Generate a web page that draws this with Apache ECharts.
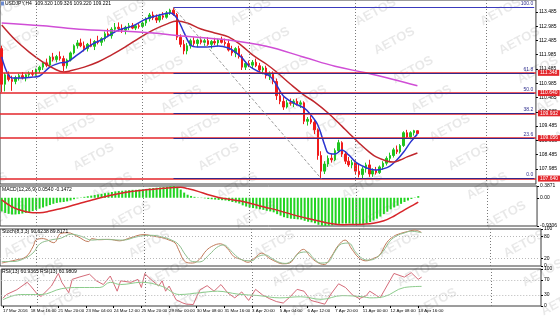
<!DOCTYPE html>
<html><head><meta charset="utf-8">
<script src="https://cdn.jsdelivr.net/npm/echarts@6/dist/echarts.min.js"></script>
<style>html,body{margin:0;padding:0;background:#fff}#c{width:560px;height:318px}</style>
</head><body><div id="c"></div>
<script>
// ---------------- DATA ----------------
const headerText = 'USDJPY,H4  109.320 109.326 109.220 109.221';
const macdTitle = 'MACD(12,26,9) 0.0540 -0.1472';
const stochTitle = 'Stoch(8,3,3) 90.6238 89.8171';
const rsiTitle = 'RSI(13) 60.9365 RSI(13) 60.9809';

const timeLabels = ['17 Mar 2016','18 Mar 16:00','21 Mar 20:00','23 Mar 04:00','24 Mar 12:00','25 Mar 20:00','29 Mar 00:00','30 Mar 08:00','31 Mar 16:00','3 Apr 20:00','5 Apr 04:00','6 Apr 12:00','7 Apr 20:00','11 Apr 00:00','12 Apr 08:00','13 Apr 16:00'];
const barsPerLabel = 8;
const totalSlots = 156;
const weekSeparators = [10, 41, 72, 103, 141];

const opens = [112.20,110.95,111.28,111.12,111.05,111.18,111.25,111.18,111.28,111.33,
111.30,111.45,111.55,111.70,111.62,111.90,111.82,111.92,111.85,111.60,
111.80,112.05,112.30,112.40,112.30,112.20,112.35,112.28,112.45,112.42,
112.55,112.72,112.65,112.88,112.95,112.90,112.85,112.95,113.00,112.92,
113.00,112.98,113.10,113.25,113.38,113.28,113.20,113.35,113.30,113.45,
113.55,113.40,112.60,112.35,112.12,112.30,112.48,112.38,112.50,112.42,
112.48,112.35,112.45,112.40,112.50,112.42,112.38,112.15,112.05,112.20,
111.92,111.55,111.68,111.62,111.72,111.60,111.45,111.52,111.25,111.30,
111.05,110.55,110.35,110.15,110.30,110.28,110.35,110.25,110.30,109.65,
109.72,109.62,109.35,108.45,107.90,108.15,108.35,108.30,108.62,108.90,
108.50,108.25,108.12,108.20,107.90,107.78,107.98,108.12,107.80,107.92,
107.85,108.05,108.18,108.35,108.45,108.65,108.58,108.80,109.25,109.10,
109.25,109.32];
const closes = [110.95,111.28,111.12,111.05,111.18,111.25,111.18,111.28,111.33,111.30,
111.45,111.55,111.70,111.62,111.90,111.82,111.92,111.85,111.60,111.80,
112.05,112.30,112.40,112.30,112.20,112.35,112.28,112.45,112.42,112.55,
112.72,112.65,112.88,112.95,112.90,112.85,112.95,113.00,112.92,113.00,
112.98,113.10,113.25,113.38,113.28,113.20,113.35,113.30,113.45,113.55,
113.40,112.60,112.35,112.12,112.30,112.48,112.38,112.50,112.42,112.48,
112.35,112.45,112.40,112.50,112.42,112.38,112.15,112.05,112.20,111.92,
111.55,111.68,111.62,111.72,111.60,111.45,111.52,111.25,111.30,111.05,
110.55,110.35,110.15,110.30,110.28,110.35,110.25,110.30,109.65,109.72,
109.62,109.35,108.45,107.90,108.15,108.35,108.30,108.62,108.90,108.50,
108.25,108.12,108.20,107.90,107.78,107.98,108.12,107.80,107.92,107.85,
108.05,108.18,108.35,108.45,108.65,108.58,108.80,109.25,109.10,109.25,
109.32,109.22];
const highs = [112.30,111.35,111.40,111.25,111.25,111.32,111.38,111.32,111.40,111.45,
111.50,111.60,111.75,111.85,111.95,112.05,111.98,112.10,111.95,111.85,
112.10,112.35,112.50,112.55,112.45,112.40,112.55,112.50,112.65,112.60,
112.80,112.90,112.95,113.10,113.12,113.05,113.00,113.10,113.10,113.05,
113.08,113.15,113.30,113.45,113.50,113.40,113.42,113.48,113.52,113.60,
113.64,113.45,112.70,112.50,112.40,112.55,112.60,112.55,112.62,112.55,
112.60,112.50,112.58,112.55,112.62,112.55,112.52,112.30,112.25,112.30,
112.00,111.75,111.78,111.80,111.85,111.70,111.58,111.60,111.40,111.40,
111.15,110.70,110.50,110.40,110.45,110.42,110.45,110.38,110.35,109.80,
109.85,109.70,109.40,108.60,108.25,108.45,108.50,108.70,109.00,108.95,
108.60,108.40,108.30,108.28,108.15,108.05,108.20,108.30,108.00,108.05,
108.10,108.25,108.42,108.55,108.72,108.80,108.85,109.30,109.35,109.30,
109.35,109.33];
const lows = [110.67,110.70,111.05,110.72,110.95,111.08,111.12,111.05,111.18,111.22,
111.25,111.35,111.45,111.55,111.58,111.75,111.72,111.78,111.40,111.50,
111.75,112.00,112.20,112.25,112.10,112.10,112.25,112.15,112.35,112.30,
112.45,112.60,112.55,112.75,112.80,112.75,112.70,112.85,112.88,112.85,
112.90,112.92,113.00,113.15,113.20,113.10,113.12,113.22,113.25,113.38,
113.35,112.50,112.25,112.00,112.00,112.20,112.30,112.25,112.35,112.30,
112.30,112.20,112.32,112.28,112.38,112.30,112.10,111.95,111.90,111.85,
111.45,111.45,111.55,111.50,111.55,111.35,111.30,111.15,111.10,110.95,
110.40,110.25,110.05,110.10,110.20,110.15,110.20,110.12,109.55,109.50,
109.55,109.20,108.30,107.64,107.80,108.05,108.20,108.25,108.55,108.40,
108.15,108.05,108.00,107.80,107.68,107.65,107.85,107.70,107.70,107.78,
107.80,107.95,108.10,108.25,108.38,108.50,108.52,108.75,109.05,109.02,
109.15,109.22];

// moving averages: [bar, price]
const blueMA = [[0,111.91],[3,111.17],[6,111.17],[9,111.20],[11,111.24],[14,111.55],[17,111.70],[19,111.73],[22,111.98],[26,112.33],[30,112.57],[34,112.85],[38,112.99],[42,113.24],[46,113.38],[49,113.45],[51,113.27],[53,112.78],[55,112.33],[57,112.26],[60,112.26],[63,112.29],[66,112.22],[68,112.08],[70,111.87],[72,111.59],[75,111.38],[78,111.24],[80,110.92],[82,110.54],[85,110.29],[88,110.12],[90,109.87],[92,109.52],[94,108.82],[95,108.54],[97,108.50],[99,108.64],[101,108.47],[103,108.22],[105,108.08],[107,107.98],[109,107.94],[111,107.98],[113,108.08],[115,108.29],[117,108.57],[119,108.92],[121,109.20]];
const redMA = [[0,113.03],[4,112.50],[8,112.08],[12,111.73],[16,111.45],[18,111.38],[20,111.42],[24,111.55],[28,111.73],[32,111.98],[36,112.26],[40,112.57],[44,112.85],[48,113.06],[51,113.17],[54,113.10],[58,112.89],[62,112.75],[66,112.61],[70,112.29],[73,111.98],[77,111.66],[80,111.38],[84,110.96],[88,110.57],[91,110.33],[95,109.94],[99,109.48],[101,109.24],[104,108.89],[107,108.57],[109,108.40],[112,108.26],[114,108.22],[116,108.29],[118,108.40],[121,108.54]];
const magentaMA = [[0,113.10],[12,113.00],[24,112.87],[43,112.76],[51,112.66],[66,112.50],[77,112.28],[88,111.90],[97,111.58],[106,111.35],[114,111.12],[121,110.90]];

// Fibonacci / horizontal levels
const fibLevels = ['100.0','61.8','50.0','38.2','23.6','0.0'];
const fibPrices = [113.640,111.348,110.640,109.932,109.056,107.640];
const fibStartBar = 50, fibLowBar = 93;
const bidPrice = 109.221;
const priceTicks = [113.485,112.985,112.485,111.985,111.485,110.985,110.485,109.985,109.485,108.985,108.485,107.985];

// MACD histogram per bar
const macd = [-0.45,-0.50,-0.53,-0.55,-0.55,-0.54,-0.52,-0.50,-0.47,-0.44,
-0.40,-0.36,-0.32,-0.28,-0.24,-0.20,-0.17,-0.15,-0.14,-0.12,
-0.09,-0.05,-0.02,0.01,0.03,0.05,0.07,0.09,0.11,0.13,
0.15,0.17,0.19,0.21,0.22,0.23,0.24,0.25,0.26,0.26,
0.27,0.28,0.29,0.31,0.32,0.33,0.34,0.35,0.36,0.38,
0.387,0.36,0.27,0.17,0.10,0.06,0.03,0.01,-0.01,-0.02,
-0.04,-0.05,-0.06,-0.07,-0.08,-0.09,-0.11,-0.14,-0.16,-0.19,
-0.25,-0.29,-0.32,-0.34,-0.36,-0.38,-0.40,-0.43,-0.45,-0.48,
-0.54,-0.59,-0.64,-0.67,-0.69,-0.70,-0.71,-0.72,-0.76,-0.79,
-0.81,-0.84,-0.89,-0.92,-0.9306,-0.92,-0.91,-0.89,-0.86,-0.85,
-0.85,-0.85,-0.86,-0.87,-0.87,-0.86,-0.84,-0.80,-0.75,-0.69,
-0.62,-0.54,-0.46,-0.38,-0.32,-0.26,-0.20,-0.14,-0.09,-0.04,
0.01,0.054];
const macdSignal = [[0,-0.07],[3,-0.30],[6,-0.43],[9,-0.49],[11,-0.49],[14,-0.44],[17,-0.36],[20,-0.27],[23,-0.17],[26,-0.08],[29,0.01],[32,0.09],[35,0.16],[38,0.21],[41,0.25],[44,0.28],[47,0.31],[50,0.34],[52,0.35],[54,0.30],[57,0.21],[60,0.10],[63,0.01],[66,-0.05],[69,-0.10],[72,-0.18],[75,-0.27],[78,-0.35],[81,-0.44],[84,-0.54],[87,-0.63],[90,-0.71],[93,-0.79],[96,-0.86],[99,-0.89],[102,-0.88],[105,-0.87],[108,-0.84],[111,-0.76],[114,-0.60],[117,-0.40],[120,-0.21],[121,-0.147]];
const macdAxisValues = [0.3871, 0, -0.9306];
const macdAxisLabels = ['0.3871','0.00','-0.9306'];

const stochMain = [[0,8],[2,12],[4,16],[7,25],[9,52],[10,71],[12,74],[15,63],[17,88],[19,90],[22,79],[25,66],[26,74],[28,71],[31,72],[34,68],[37,76],[41,85],[44,80],[46,77],[48,71],[50,62],[51,44],[53,11],[55,8],[57,18],[59,42],[61,55],[63,60],[65,48],[67,25],[69,18],[71,10],[73,22],[75,35],[77,22],[79,12],[81,6],[83,8],[85,30],[87,45],[89,25],[91,10],[93,4],[95,25],[97,55],[99,70],[101,45],[103,22],[105,14],[107,20],[109,30],[111,63],[113,80],[115,88],[117,93],[119,97],[121,91]];
const stochSignal = [[0,12],[3,12],[6,18],[9,35],[11,60],[14,70],[17,75],[20,86],[23,80],[26,70],[29,72],[32,71],[35,70],[39,79],[43,83],[46,79],[49,70],[51,58],[53,30],[55,12],[57,11],[60,32],[62,50],[64,57],[66,42],[68,24],[70,15],[72,14],[74,26],[76,30],[78,20],[80,10],[82,7],[84,18],[86,36],[88,38],[90,20],[92,8],[94,10],[96,38],[98,60],[100,62],[102,38],[104,20],[106,16],[108,22],[110,40],[112,68],[114,82],[116,89],[118,94],[121,90]];
const stochLevels = [80, 20];
const stochAxis = [100, 80, 20, 0];

const rsiMain = [[0,21],[1,31],[4,44],[7,64],[8,54],[10,31],[11,26],[14,54],[16,88],[17,64],[19,36],[20,72],[22,78],[25,86],[27,68],[29,58],[31,81],[33,40],[34,68],[37,64],[39,72],[40,50],[41,88],[42,78],[45,54],[46,68],[47,40],[48,54],[50,17],[52,8],[53,5],[55,4],[56,26],[57,44],[59,55],[61,40],[63,58],[65,35],[67,22],[69,38],[71,15],[73,45],[75,30],[77,20],[79,12],[81,8],[83,25],[85,45],[87,40],[89,15],[91,10],[93,5],[95,35],[97,60],[99,50],[101,30],[103,20],[105,28],[106,40],[109,22],[113,88],[116,78],[118,90],[120,72],[121,78]];
const rsiSignal = [[0,17],[5,31],[11,31],[17,47],[22,50],[28,50],[31,64],[34,58],[40,64],[46,53],[51,31],[57,36],[62,40],[68,32],[74,28],[80,22],[86,25],[92,18],[98,28],[104,25],[106,22],[110,25],[116,50],[121,53]];
const rsiLevels = [70, 30];
const rsiAxis = [100, 70, 30, 0];

// ---------------- BUILD ----------------
const FONT = 'Liberation Sans';
const categories = Array.from({length: totalSlots}, (_, i) => String(i));
const cat = i => String(i);
const pairs = arr => arr.map(([i, v]) => [cat(i), v]);
const candleData = opens.map((o, i) => [o, closes[i], lows[i], highs[i]]);

const UP = '#1fc41f', DOWN = '#f01b1b';
const border = {show: true, borderColor: '#3a3a3a', borderWidth: 1};
const grids = [
  Object.assign({left: 0, top: 0, width: 541, height: 184}, border),
  Object.assign({left: 0, top: 186, width: 541, height: 40}, border),
  Object.assign({left: 0, top: 229, width: 541, height: 37}, border),
  Object.assign({left: 0, top: 269, width: 541, height: 37}, border)
];
const labelShown = i => i % barsPerLabel === 0 && i / barsPerLabel < timeLabels.length;
const xAxes = grids.map((g, k) => ({
  type: 'category', gridIndex: k, data: categories, boundaryGap: true,
  axisLine: {show: false},
  axisTick: k === 3 ? {show: true, interval: labelShown, alignWithLabel: true, length: 2, lineStyle: {color: '#000'}} : {show: false},
  axisLabel: k === 3 ? {show: true, interval: labelShown, showMinLabel: true, hideOverlap: false, formatter: (v, i) => timeLabels[i / barsPerLabel] || '', align: 'left', fontSize: 4.4, fontFamily: FONT, color: '#000', margin: 3} : {show: false},
  splitLine: {show: false}
}));
const yBase = (k, min, max, vals, fmt) => ({
  type: 'value', gridIndex: k, position: 'right', min, max,
  axisLine: {show: false}, splitLine: {show: false},
  axisTick: {show: true, length: 2, customValues: vals, lineStyle: {color: '#000'}},
  axisLabel: {customValues: vals, formatter: fmt, fontSize: 5, fontFamily: FONT, color: '#000', margin: 3}
});
const yAxes = [
  yBase(0, 107.45, 113.906, priceTicks, v => v.toFixed(3)),
  yBase(1, -0.9306, 0.3871, macdAxisValues, v => macdAxisLabels[macdAxisValues.indexOf(v)] ?? String(v)),
  yBase(2, 0, 100, stochAxis, v => String(v)),
  yBase(3, 0, 100, rsiAxis, v => String(v))
];

const sepLines = weekSeparators.map(b => ({xAxis: cat(b), lineStyle: {color: '#7a7a7a', type: [1, 2], width: 1}, label: {show: false}}));
const levelLines = lv => lv.map(v => ({yAxis: v, lineStyle: {color: '#b8b8b8', type: [1, 2], width: 1}, label: {show: false}}));

const redLines = fibPrices.slice(1).map(p => ({
  yAxis: p, lineStyle: {color: '#e3262b', width: 1.6, type: 'solid'},
  label: {show: true, position: 'end', distance: 2, formatter: p.toFixed(3), color: '#fff', backgroundColor: '#e3262b', fontSize: 5, fontFamily: FONT, padding: [1, 2, 0, 2]}
}));
const fibSegs = fibPrices.map((p, k) => [
  {coord: [cat(fibStartBar), p], lineStyle: {color: k === 0 ? '#3b3bbd' : '#35288a', width: 1.2, type: 'solid'},
   label: {show: true, position: 'insideEndTop', formatter: fibLevels[k], color: '#2d2d8c', fontSize: 5, fontFamily: FONT, distance: 1}},
  {coord: [cat(totalSlots - 1), p]}
]);
const diagonal = [[
  {coord: [cat(fibStartBar), fibPrices[0]], lineStyle: {color: '#9b9b9b', type: [3, 2], width: 1}, label: {show: false}},
  {coord: [cat(fibLowBar), fibPrices[fibPrices.length - 1]]}
]];
const bidLabel = {yAxis: bidPrice, lineStyle: {opacity: 0}, label: {show: true, position: 'end', distance: 2, formatter: bidPrice.toFixed(3), color: '#fff', backgroundColor: '#000', fontSize: 5, fontFamily: FONT, padding: [1, 2, 0, 2]}};

const lineS = (name, data, color, width, xi, smooth) => ({
  name, type: 'line', xAxisIndex: xi, yAxisIndex: xi, data: pairs(data), showSymbol: false, symbol: 'none',
  smooth: smooth, lineStyle: {color, width}, z: 3, silent: true
});

const series = [
  {type: 'candlestick', xAxisIndex: 0, yAxisIndex: 0, data: candleData, barWidth: 2, clip: false, silent: true,
   itemStyle: {color: UP, color0: DOWN, borderColor: UP, borderColor0: DOWN, borderWidth: 1},
   markLine: {symbol: ['none', 'none'], silent: true, animation: false,
     data: [...sepLines, ...redLines, ...fibSegs, ...diagonal, bidLabel]}},
  lineS('blue', blueMA, '#2b35d0', 1.5, 0, 0.35),
  lineS('red', redMA, '#c0272d', 1.5, 0, 0.4),
  lineS('magenta', magentaMA, '#d04ed6', 1.5, 0, 0.4),
  {type: 'bar', xAxisIndex: 1, yAxisIndex: 1, data: macd, barWidth: 2, itemStyle: {color: '#22d422'}, silent: true,
   markLine: {symbol: ['none', 'none'], silent: true, animation: false, data: sepLines}},
  lineS('signal', macdSignal, '#d8262b', 1.5, 1, 0.4),
  Object.assign(lineS('stoch', stochMain, '#c07a5a', 1, 2, 0.4), {markLine: {symbol: ['none', 'none'], silent: true, animation: false, data: [...sepLines, ...levelLines(stochLevels)]}}),
  lineS('stochSig', stochSignal, '#8fbf8f', 1, 2, 0.4),
  Object.assign(lineS('rsi', rsiMain, '#d46a78', 1, 3, false), {markLine: {symbol: ['none', 'none'], silent: true, animation: false, data: [...sepLines, ...levelLines(rsiLevels)]}}),
  lineS('rsiSig', rsiSignal, '#8ccc8c', 1, 3, 0.4)
];

// watermark lattice + texts
const graphics = [];
for (let i = -1; i < 5; i++) {
  for (let j = 0; j < 11; j++) {
    const y = 12 + 29 * j;
    const x = -7 + 125 * i + 0.64 * y;
    graphics.push({type: 'text', x, y, rotation: Math.PI / 6.3, silent: true, z: 0,
      style: {text: 'AETOS', fill: 'rgba(0,0,0,0.09)', font: 'bold 13px "Liberation Sans"', align: 'center', verticalAlign: 'middle'}});
  }
}
const txt = (x, y, t) => ({type: 'text', x, y, silent: true, z: 50, style: {text: t, fill: '#000', font: '5px "Liberation Sans"', verticalAlign: 'middle'}});
graphics.push(txt(5, 3.5, headerText));
graphics.push({type: 'rect', shape: {x: 1, y: 1.5, width: 3, height: 4}, style: {fill: '#6a8ad0'}, z: 50, silent: true});
graphics.push(txt(2, 189.5, macdTitle));
graphics.push(txt(2, 232, stochTitle));
graphics.push(txt(2, 272, rsiTitle));

const chart = echarts.init(document.getElementById('c'), null, {renderer: 'canvas', width: 560, height: 318});
chart.setOption({
  animation: false,
  backgroundColor: '#fff',
  grid: grids, xAxis: xAxes, yAxis: yAxes, series, graphic: graphics
});
</script></body></html>
